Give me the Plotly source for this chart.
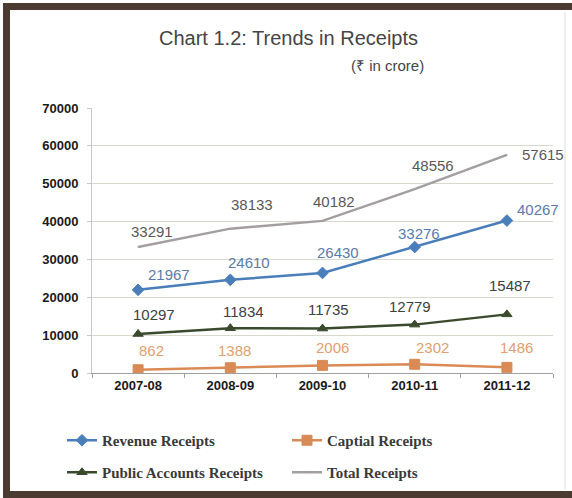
import plotly.graph_objects as go

years = ["2007-08", "2008-09", "2009-10", "2010-11", "2011-12"]
revenue = [21967, 24610, 26430, 33276, 40267]
capital = [862, 1388, 2006, 2302, 1486]
public = [10297, 11834, 11735, 12779, 15487]
total = [33291, 38133, 40182, 48556, 57615]

# label offsets (px) per series
off_total = [(14, 15), (22, 24), (11, 19), (18, 24), (36, 0)]
off_rev = [(31, 15), (19, 17), (15, 20), (4, 14), (31, 11)]
off_pub = [(16, 20), (13, 17), (6, 19), (-5, 18), (3, 29)]
off_cap = [(13, 19), (4, 17), (10, 18), (18, 17), (10, 20)]

series = [
    ("Revenue Receipts", revenue, "#4A7EBB", "diamond", 9, "legend", "#5B7BA8", off_rev),
    ("Captial Receipts", capital, "#D98A55", "square", 10, "legend", "#E0A070", off_cap),
    ("Public Accounts Receipts", public, "#3B4A2C", "triangle-up", 9, "legend2", "#404040", off_pub),
    ("Total Receipts", total, "#A39EA0", "line-ew", 1, "legend2", "#595959", off_total),
]

L, R, T, B = 92, 19, 108, 125
W, H = 572, 498
pw, ph = W - L - R, H - T - B
FRAME = "#4B3B30"


def px_x(x):
    return (x - L) / pw


def px_y(y):
    return (H - B - y) / ph


fig = go.Figure()
annotations = []
for name, vals, col, sym, size, leg, lcol, offs in series:
    fig.add_trace(go.Scatter(
        x=years, y=vals, name=name, mode="lines+markers",
        line=dict(color=col, width=2.5),
        marker=dict(symbol=sym, size=size, color=col, line=dict(width=1, color=col)),
        legend=leg,
    ))
    for xv, yv, (dx, dy) in zip(years, vals, offs):
        annotations.append(dict(
            x=xv, y=yv, xref="x", yref="y", text=str(yv), showarrow=False,
            xshift=dx, yshift=dy,
            font=dict(family="Liberation Sans, Arial", size=15, color=lcol),
        ))

annotations += [
    dict(text="Chart 1.2: Trends in Receipts", x=px_x(288), y=px_y(38), xref="paper", yref="paper",
         xanchor="center", yanchor="middle",
         showarrow=False, font=dict(family="Liberation Sans, Arial", size=20, color="#454545")),
    dict(text="(₹ in crore)", x=px_x(426), y=px_y(65), xref="paper", yref="paper",
         xanchor="right", yanchor="middle",
         showarrow=False, font=dict(family="Liberation Sans, Arial", size=15, color="#454545")),
]

shapes = [
    # white interior inside the brown frame (paper background is the frame colour)
    dict(type="rect", xref="paper", yref="paper", x0=px_x(10), x1=px_x(700), y0=px_y(491), y1=px_y(10),
         fillcolor="white", line=dict(width=0), layer="below"),
    # white outer margin left of frame and above it
    dict(type="rect", xref="paper", yref="paper", x0=px_x(-50), x1=px_x(3), y0=px_y(550), y1=px_y(-50),
         fillcolor="white", line=dict(width=0), layer="below"),
    dict(type="rect", xref="paper", yref="paper", x0=px_x(-50), x1=px_x(700), y0=px_y(3), y1=px_y(-50),
         fillcolor="white", line=dict(width=0), layer="below"),
    # light inner line at right
    dict(type="line", xref="paper", yref="paper", x0=px_x(565), x1=px_x(565), y0=px_y(489), y1=px_y(12),
         line=dict(color="#DDDDDD", width=1), layer="below"),
]

legfont = dict(family="Liberation Serif, Times New Roman", size=15, color="#3A3A3A", weight="bold")
tickfont = dict(family="Liberation Sans, Arial", size=13, color="#1A1A1A", weight="bold")
fig.update_layout(
    width=W, height=H,
    margin=dict(l=L, r=R, t=T, b=B, autoexpand=False),
    paper_bgcolor=FRAME, plot_bgcolor="white",
    annotations=annotations, shapes=shapes,
    legend=dict(orientation="h", x=px_x(62), y=px_y(424), xanchor="left", yanchor="top",
                entrywidth=180, entrywidthmode="pixels", font=legfont,
                bgcolor="rgba(0,0,0,0)", itemclick=False),
    legend2=dict(orientation="h", x=px_x(62), y=px_y(456), xanchor="left", yanchor="top",
                 entrywidth=180, entrywidthmode="pixels", font=legfont,
                 bgcolor="rgba(0,0,0,0)", itemclick=False),
    xaxis=dict(type="category", range=[-0.5, 4.5], showgrid=False, showline=True, linecolor="#A0A0A0",
               ticks="outside", tickson="boundaries", ticklen=4, tickcolor="#A0A0A0",
               tickfont=tickfont),
    yaxis=dict(range=[0, 70000], dtick=10000, tickformat="d", showgrid=True, gridcolor="#D8D8CC",
               showline=True, linecolor="#C8C8C8", zeroline=False,
               ticks="outside", ticklen=4, tickcolor="#C8C8C8", ticklabelstandoff=6,
               tickfont=tickfont),
)

fig.write_html("out.html", config={"displayModeBar": False},
               post_script="document.body.style.margin='0';document.body.style.overflow='hidden';")
